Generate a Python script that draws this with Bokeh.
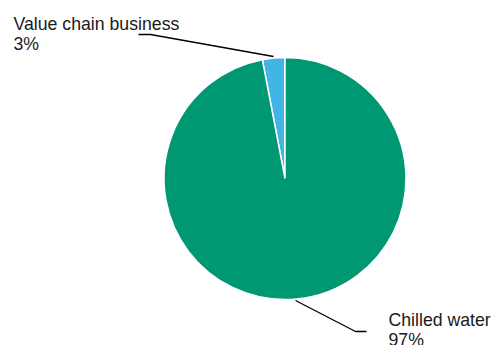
import math
from bokeh.plotting import figure
from bokeh.models import Range1d, ColumnDataSource
from bokeh.core.properties import value
from bokeh.embed import file_html
from bokeh.resources import INLINE

categories = ["Value chain business", "Chilled water"]
shares = [3, 97]
colors = ["#41B6E6", "#009873"]

W, H = 492, 345
p = figure(width=W, height=H, output_backend="svg", toolbar_location=None,
           x_range=Range1d(0, W), y_range=Range1d(0, H), min_border=0)
p.axis.visible = False
p.grid.visible = False
p.outline_line_color = None
p.background_fill_color = "white"
p.border_fill_color = "white"

cx, cy, r = 284.5, H - 178, 121
total = sum(shares)
starts, ends = [], []
a = math.pi / 2
for s in shares:
    starts.append(a)
    a += s / total * 2 * math.pi
    ends.append(a)
src = ColumnDataSource(dict(start=starts, end=ends, color=colors))
p.wedge(x=cx, y=cy, radius=r, start_angle="start", end_angle="end",
        fill_color="color", line_color="white", line_width=1.5, source=src)

# leader lines
p.line(x=[138, 150, 273], y=[H - 34, H - 34, H - 56], line_color="black", line_width=1.3)
p.line(x=[295, 355, 366], y=[H - 300, H - 331, H - 331], line_color="black", line_width=1.3)

font = value("Liberation Sans")
labels = [f"{c}" for c in categories]
pcts = [f"{s}%" for s in shares]
lx = [13, 388]
ly1 = [H - 23.5, H - 319.5]
ly2 = [H - 43.5, H - 339.5]
p.text(x=lx, y=ly1, text=labels, text_font=font, text_font_size="17.7px",
       text_color="#1a1a1a", text_baseline="alphabetic", text_align="left")
p.text(x=lx, y=ly2, text=pcts, text_font=font, text_font_size="17.7px",
       text_color="#1a1a1a", text_baseline="alphabetic", text_align="left")

open("out.html", "w").write(file_html(p, INLINE))
